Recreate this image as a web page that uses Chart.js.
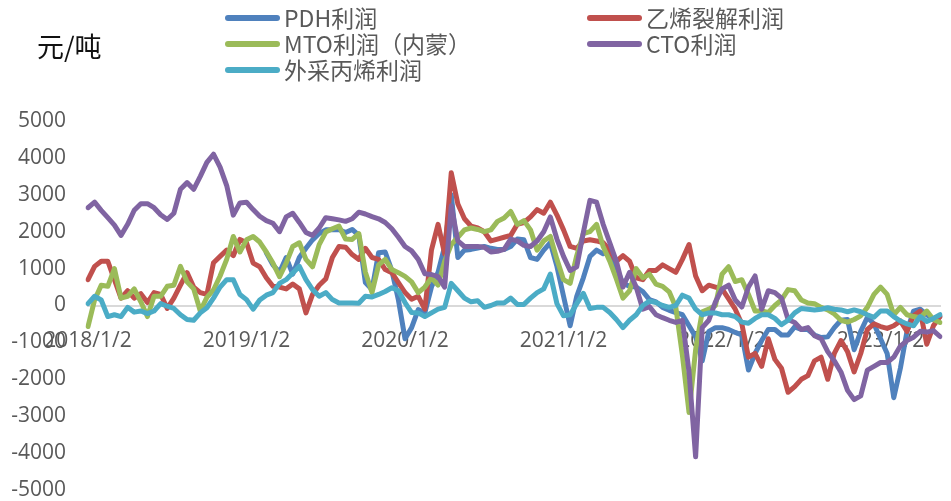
<!DOCTYPE html>
<html>
<head>
<meta charset="utf-8">
<script src="https://cdn.jsdelivr.net/npm/chart.js@4.4.1/dist/chart.umd.min.js"></script>
<style>
  body { margin: 0; background: #fff; }
  #wrap { position: relative; width: 951px; height: 501px; }
  #unit { position: absolute; left: 37px; top: 28px; font: 27px "Noto Sans CJK SC", sans-serif; color: #111; line-height: 36px; }
  .item { position: absolute; height: 26px; font: 23px "Noto Sans CJK SC", sans-serif; color: #595959; line-height: 26px; white-space: nowrap; }
  .item i { position: absolute; left: 0; top: 10px; width: 55px; height: 6px; border-radius: 3px; }
  .item span { position: absolute; left: 59px; top: -1px; }
</style>
</head>
<body>
<div id="wrap">
  <canvas id="chart"></canvas>
  <div id="unit">元/吨</div>
  <div id="legend"></div>
</div>
<script>
// semi-monthly dates, 2018/1/2 .. 2023/5/16
const dates = [];
for (let y = 2018; y <= 2023; y++) {
    for (let m = 1; m <= 12; m++) {
        if (y === 2023 && m > 5) break;
        dates.push(`${y}/${m}/2`, `${y}/${m}/16`);
    }
}

const pdh = [
    null, null, null, null, null, null, null, null, null, null,
    null, null, null, null, null, null, null, null, null, null,
    null, null, null, null, null, null, null, 1430, 1100, 900,
    1300, 850, 1300, 1550, 1780, 1950, 2050, 2050, 2060, 1980,
    2060, 1900, 620, 430, 1430, 1450, 950, 150, -900, -600,
    -110, -200, 500, 900, 1600, 3000, 1300, 1500, 1520, 1560,
    1600, 1550, 1520, 1520, 1600, 1800, 1780, 1300, 1250, 1500,
    1700, 1060, 250, -550, 250, 750, 1330, 1500, 1400, 1500,
    1000, 600, 520, 500, 380, 160, 100, -50, -130, -190,
    -250, -550, -850, -1500, -700, -600, -600, -650, -730, -800,
    -1750, -1300, -950, -650, -650, -800, -800, -580, -650, -650,
    -800, -870, -850, -600, -400, -380, -1200, -700, -320, -500,
    -900, -1300, -2500, -1700, -700, -150, -100, -250, -380, -300
];
const ethylene = [
    700, 1060, 1200, 1200, 700, 200, 400, 200, 320, 80,
    350, 300, -80, 200, 550, 890, 500, 350, 300, 1160,
    1330, 1500, 1350, 1790, 1700, 1150, 1050, 750, 520, 500,
    450, 580, 450, -200, 300, 550, 720, 1300, 1600, 1580,
    1380, 1250, 1550, 1300, 1250, 975, 890, 620, 350, 170,
    250, -100, 1500, 2200, 1400, 3600, 2750, 2350, 2150, 2100,
    2000, 1750, 1800, 1850, 1900, 2200, 2250, 2400, 2600, 2500,
    2800, 2450, 2050, 1600, 1550, 1750, 1780, 1750, 1700, 1500,
    1200, 1350, 1200, 750, 700, 950, 950, 1100, 1000, 900,
    1250, 1650, 800, 400, 550, 500, 450, 180, -100, -500,
    -1400, -1300, -1650, -900, -1460, -1700, -2350, -2200, -2000, -1900,
    -1500, -1400, -2000, -1300, -950, -1250, -1800, -1300, -650, -500,
    -570, -620, -550, -420, -700, -280, -150, -1050, -550, -300
];
const mto = [
    -570, 150, 550, 520, 1000, 200, 250, 450, 100, -300,
    250, 250, 520, 550, 1060, 640, 450, -150, 220, 420,
    800, 1250, 1870, 1450, 1780, 1870, 1720, 1450, 1150, 780,
    1150, 1600, 1700, 1250, 1050, 1650, 1990, 2080, 2150, 1800,
    1790, 1950, 900, 350, 1100, 1250, 975, 890, 790, 640,
    350, 500, 750, 550, 1200, 1650, 1850, 2050, 2100, 2060,
    2000, 2050, 2280, 2370, 2550, 2200, 2300, 2050, 1500, 1750,
    1870, 1250, 700, 600, 1350, 1950, 2000, 2200, 1600, 1200,
    720, 200, 400, 1000, 750, 850, 580, 520, 370, -50,
    -1350, -2900, -1200, -170, -100, 0, 850, 1050, 650, 700,
    300, -150, -150, -190, 0, 150, 430, 400, 150, 70,
    50, -50, -120, -230, -400, -450, -380, -280, -50, 300,
    500, 300, -250, -50, -250, -300, -330, -150, -380, -460
];
const cto = [
    2650, 2800, 2580, 2380, 2180, 1900, 2200, 2580, 2760, 2760,
    2650, 2460, 2330, 2500, 3150, 3330, 3150, 3500, 3880, 4100,
    3750, 3250, 2450, 2780, 2800, 2600, 2420, 2300, 2230, 2000,
    2400, 2500, 2250, 1980, 1900, 2100, 2380, 2350, 2320, 2280,
    2350, 2530, 2480, 2410, 2350, 2250, 2080, 1850, 1600, 1480,
    1250, 860, 840, 780, 500, 2700, 1750, 1600, 1600, 1600,
    1580, 1450, 1470, 1520, 1800, 1750, 1630, 1600, 1750, 2000,
    2400, 1800, 1330, 950, 1050, 1980, 2850, 2800, 2200, 1700,
    1200, 500, 900, 500, -100, -30, -250, -330, -400, -460,
    -400, -1800, -4100, -600, -400, 100, 450, 550, 150, -40,
    500, 800, -100, 400, 350, 200, -380, -460, -650, -600,
    -820, -900, -1250, -1500, -1800, -2300, -2550, -2450, -1750, -1650,
    -1545, -1545, -1400, -1100, -950, -860, -700, -720, -680, -840
];
const propylene = [
    50, 250, 150, -300, -250, -300, -50, -180, -150, -220,
    -150, 50, -20, -80, -250, -380, -400, -200, -60, 200,
    500, 700, 700, 300, 160, -100, 150, 280, 350, 600,
    700, 880, 1060, 700, 430, 250, 350, 160, 70, 70,
    70, 60, 250, 230, 300, 380, 480, 400, 80, -190,
    -200, -300, -200, -100, -50, 600, 400, 200, 100, 130,
    -50, 0, 70, 70, 200, 30, 30, 200, 350, 450,
    850, 50, -280, -250, 50, 330, -80, -50, -50, -190,
    -380, -600, -400, -250, 0, 120, 80, 0, -50, 0,
    280, 200, -100, -250, -200, -200, -250, -250, -300, -450,
    -480, -350, -250, -250, -350, -520, -400, -200, -80, -100,
    -120, -100, -60, -100, -120, -170, -120, -170, -250, -320,
    -150, -150, -300, -420, -500, -550, -300, -430, -350, -250
];

const seriesNames = ['PDH利润', '乙烯裂解利润', 'MTO利润（内蒙）', 'CTO利润', '外采丙烯利润'];
const seriesColors = ['#4F81BD', '#C0504D', '#9BBB59', '#8064A2', '#4BACC6'];
const seriesData = [pdh, ethylene, mto, cto, propylene];
const yTicks = [-5000, 5000, 1000];

const tickFont = { family: '"Open Sans", "Noto Sans CJK SC", sans-serif', size: 21 };

document.getElementById('chart').style.display = 'block';

const chart = new Chart(document.getElementById('chart'), {
    type: 'line',
    data: {
        labels: dates,
        datasets: seriesData.map((d, i) => ({
            label: seriesNames[i],
            data: d,
            borderColor: seriesColors[i],
            backgroundColor: seriesColors[i],
            borderWidth: 5,
            pointRadius: 0,
            tension: 0,
            borderJoinStyle: 'round',
            borderCapStyle: 'round',
            order: seriesData.length - i  // later series on top
        }))
    },
    options: {
        responsive: true,
        maintainAspectRatio: false,
        animation: false,
        layout: { padding: { top: 121, bottom: 11, left: 0, right: 11 } },
        plugins: { legend: { display: false }, tooltip: { enabled: false } },
        scales: {
            x: {
                position: { y: 0 },
                grid: { display: false, drawTicks: false },
                border: { display: true, color: '#d9d9d9', width: 2 },
                // axis sits on the zero line, so it takes no layout space
                afterFit: s => { s.height = 0; s.paddingLeft = 0; s.paddingRight = 0; },
                ticks: {
                    autoSkip: false,
                    maxRotation: 0,
                    minRotation: 0,
                    padding: 23,
                    color: '#595959',
                    font: tickFont,
                    callback: function (val) {
                        const lab = this.getLabelForValue(val);
                        return lab.endsWith('/1/2') ? lab : '';
                    }
                }
            },
            y: {
                min: yTicks[0],
                max: yTicks[1],
                grid: { display: false, drawTicks: false },
                border: { display: false },
                afterFit: s => { s.width = 88; s.paddingTop = 0; s.paddingBottom = 0; },
                ticks: {
                    stepSize: yTicks[2],
                    padding: 22,
                    color: '#595959',
                    font: tickFont,
                    callback: v => String(v)
                }
            }
        }
    }
});

// two-column legend
const cols = [225, 587];
const rows = [5, 31, 57];
const legend = document.getElementById('legend');
chart.data.datasets.forEach((ds, i) => {
    const el = document.createElement('div');
    el.className = 'item';
    el.style.left = cols[i % 2] + 'px';
    el.style.top = rows[Math.floor(i / 2)] + 'px';
    el.innerHTML = `<i style="background:${ds.borderColor}"></i><span>${ds.label}</span>`;
    legend.appendChild(el);
});
</script>
</body>
</html>
